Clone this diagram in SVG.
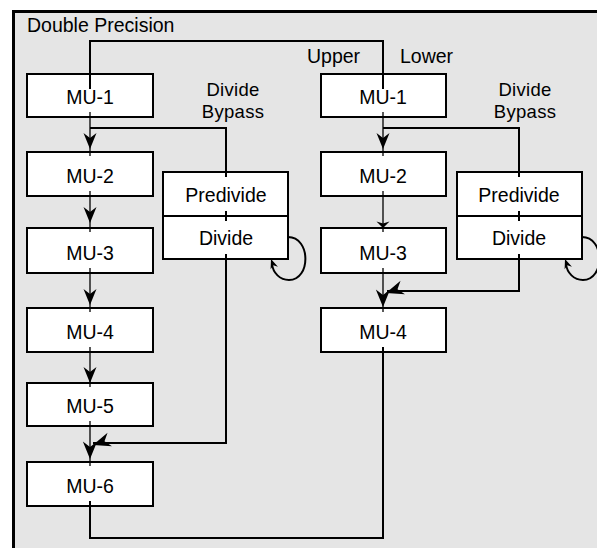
<svg xmlns="http://www.w3.org/2000/svg" xmlns:xlink="http://www.w3.org/1999/xlink" width="597" height="548" viewBox="0 0 597 548">
<style>
.frame{fill:#e5e5e5;stroke:#000;stroke-width:3}
.box{fill:#fff;stroke:#000;stroke-width:2}
.lbl{font-family:"Liberation Sans",Arial,Helvetica,sans-serif;font-size:19.5px;fill:#000}
.sm{font-size:18.5px;letter-spacing:0.3px}
.mid{text-anchor:middle}
.c{fill:none;stroke:#000;stroke-width:2}
.t{fill:none;stroke:#000;stroke-width:1.3}
.ah{fill:#000;stroke:none}
</style>
<defs>
<path id="ah" class="ah" d="M0,0 L-6.5,-16 L0,-11 L6.5,-16 Z"/>
</defs>
<rect class="frame" x="13.5" y="11.5" width="600" height="560"/>
<text class="lbl" x="27" y="32">Double Precision</text>
<text class="lbl" x="307" y="63">Upper</text>
<text class="lbl" x="400" y="63">Lower</text>
<text class="lbl sm mid" x="233" y="96">Divide</text>
<text class="lbl sm mid" x="233" y="117.5">Bypass</text>
<text class="lbl sm mid" x="525" y="96">Divide</text>
<text class="lbl sm mid" x="525" y="117.5">Bypass</text>

<g id="L-MU1"><rect class="box" x="27" y="74" width="126" height="43"/><text class="lbl mid" x="90" y="104">MU-1</text></g>
<g id="L-MU2"><rect class="box" x="27" y="152" width="126" height="44"/><text class="lbl mid" x="90" y="183">MU-2</text></g>
<g id="L-MU3"><rect class="box" x="27" y="228" width="126" height="45"/><text class="lbl mid" x="90" y="260">MU-3</text></g>
<g id="L-MU4"><rect class="box" x="27" y="308" width="126" height="44"/><text class="lbl mid" x="90" y="339">MU-4</text></g>
<g id="L-MU5"><rect class="box" x="27" y="383" width="126" height="43"/><text class="lbl mid" x="90" y="413">MU-5</text></g>
<g id="L-MU6"><rect class="box" x="27" y="462" width="126" height="44"/><text class="lbl mid" x="90" y="493">MU-6</text></g>
<g id="L-Predivide"><rect class="box" x="163" y="172" width="125" height="44"/><text class="lbl mid" x="226" y="202">Predivide</text></g>
<g id="L-Divide"><rect class="box" x="163" y="216" width="125" height="43"/><text class="lbl mid" x="226" y="245">Divide</text></g>

<g id="R-MU1"><rect class="box" x="321" y="74" width="125" height="43"/><text class="lbl mid" x="383" y="104">MU-1</text></g>
<g id="R-MU2"><rect class="box" x="321" y="152" width="125" height="44"/><text class="lbl mid" x="383" y="183">MU-2</text></g>
<g id="R-MU3"><rect class="box" x="321" y="228" width="125" height="45"/><text class="lbl mid" x="383" y="260">MU-3</text></g>
<g id="R-MU4"><rect class="box" x="321" y="308" width="125" height="44"/><text class="lbl mid" x="383" y="339">MU-4</text></g>
<g id="R-Predivide"><rect class="box" x="457" y="172" width="125" height="44"/><text class="lbl mid" x="519" y="202">Predivide</text></g>
<g id="R-Divide"><rect class="box" x="457" y="216" width="125" height="43"/><text class="lbl mid" x="519" y="245">Divide</text></g>

<g id="connectors">
<path class="c" d="M90,89 V41 H383 V89"/>
<path class="t" d="M90,112 V156"/>
<use xlink:href="#ah" transform="translate(90,149)"/>
<path class="c" d="M90,128 H226 V177"/>
<path class="c" d="M226,211 V221"/>
<path class="t" d="M90,191 V232"/>
<use xlink:href="#ah" transform="translate(90,223)"/>
<path class="t" d="M90,268 V312"/>
<use xlink:href="#ah" transform="translate(90,305)"/>
<path class="t" d="M90,347 V387"/>
<use xlink:href="#ah" transform="translate(90,383)"/>
<path class="t" d="M90,421 V466"/>
<use xlink:href="#ah" transform="translate(90,459) scale(1.1)"/>
<path class="c" d="M226,254 V443 H93"/>
<use xlink:href="#ah" transform="translate(93,445) rotate(72) scale(1.1)"/>
<path class="c" d="M90,501 V538 H383 V347"/>
<path class="c" d="M288,237 C311,237 311,280 289,280 C280,280 273,273 272,264"/>
<use xlink:href="#ah" transform="translate(271,259) rotate(160) scale(0.6)"/>

<path class="t" d="M383,112 V156"/>
<use xlink:href="#ah" transform="translate(383,149)"/>
<path class="c" d="M383,128 H519 V177"/>
<path class="c" d="M519,211 V221"/>
<path class="t" d="M383,191 V232"/>
<use xlink:href="#ah" transform="translate(383,228) scale(1,0.4)"/>
<path class="t" d="M383,268 V312"/>
<use xlink:href="#ah" transform="translate(383,307) scale(1.1)"/>
<path class="c" d="M519,254 V291 H387"/>
<use xlink:href="#ah" transform="translate(386,293) rotate(72) scale(1.1)"/>
<path class="c" d="M582,237 C605,237 605,280 583,280 C574,280 567,273 566,264"/>
<use xlink:href="#ah" transform="translate(565,259) rotate(160) scale(0.6)"/>
</g>
</svg>
